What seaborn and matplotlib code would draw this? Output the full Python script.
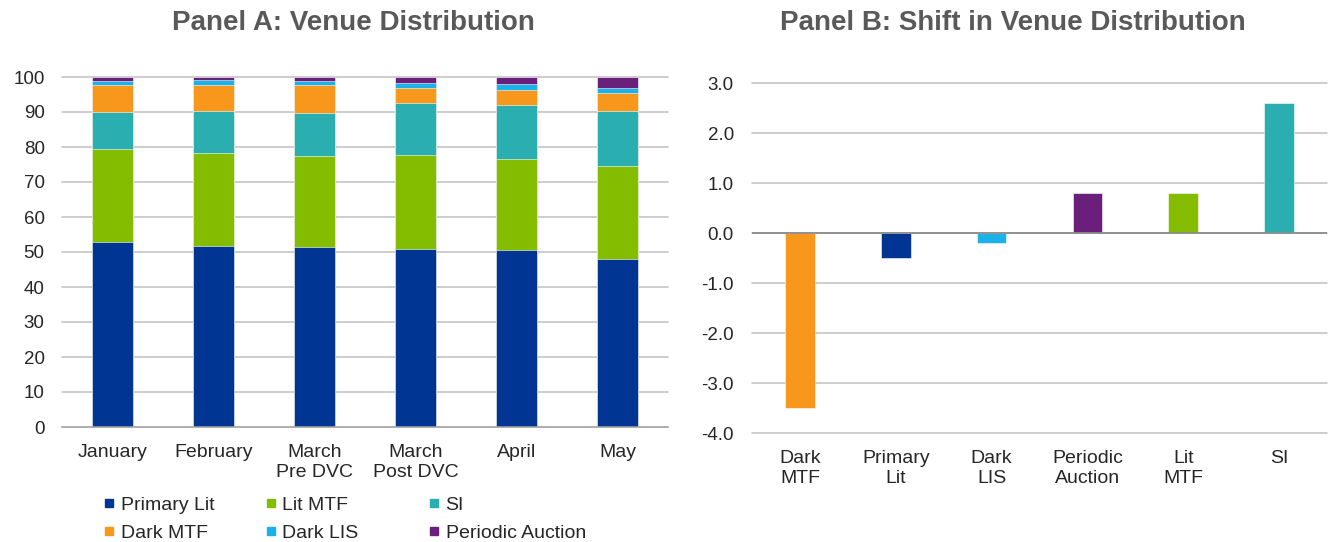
import numpy as np
import pandas as pd
import matplotlib
matplotlib.use("Agg")
import matplotlib.pyplot as plt
import seaborn as sns
from matplotlib.lines import Line2D

# ---------------- data ----------------
months = ["January", "February", "March\nPre DVC", "March\nPost DVC", "April", "May"]
venues = ["Primary Lit", "Lit MTF", "SI", "Dark MTF", "Dark LIS", "Periodic Auction"]
primary_lit = [53.0, 51.7, 51.4, 50.9, 50.6, 48.0]
lit_mtf = [26.3, 26.5, 26.1, 26.8, 26.0, 26.7]
si = [10.7, 12.0, 12.1, 14.8, 15.3, 15.5]
dark_mtf = [7.6, 7.4, 8.0, 4.4, 4.5, 5.2]
dark_lis = [1.4, 1.4, 1.4, 1.4, 1.6, 1.6]
periodic_auction = [1.0, 1.0, 1.0, 1.7, 2.0, 3.0]

shift_labels = ["Dark\nMTF", "Primary\nLit", "Dark\nLIS", "Periodic\nAuction", "Lit\nMTF", "SI"]
shift_venues = ["Dark MTF", "Primary Lit", "Dark LIS", "Periodic Auction", "Lit MTF", "SI"]
shift_values = [-3.5, -0.5, -0.2, 0.8, 0.8, 2.6]

colors = {
    "Primary Lit": "#003594",
    "Lit MTF": "#84bd00",
    "SI": "#2aaeb0",
    "Dark MTF": "#f7981d",
    "Dark LIS": "#1ab2e8",
    "Periodic Auction": "#6a1f7a",
}

# ---------------- style ----------------
sns.set_theme(style="white")
plt.rcParams['font.family'] = ['Liberation Sans', 'DejaVu Sans']
plt.rcParams['axes.unicode_minus'] = False

W, H = 1328, 542
fig = plt.figure(figsize=(W / 100, H / 100), dpi=100)
axA = fig.add_axes([62 / W, 1 - 427 / H, 606 / W, 350 / H])
axB = fig.add_axes([752 / W, 1 - 433 / H, 575 / W, 350 / H])

grid_color = "#c0c0c0"
tick_color = "#262626"
title_color = "#595959"
FS = 14

# ---------------- Panel A (stacked) ----------------
series = [primary_lit, lit_mtf, si, dark_mtf, dark_lis, periodic_auction]
cum = np.zeros(len(months))
layers = []
for v, vals in zip(venues, series):
    cum = cum + np.array(vals)
    layers.append((v, cum.copy()))
for v, tops in reversed(layers):
    df = pd.DataFrame({"month": months, "top": tops})
    sns.barplot(data=df, x="month", y="top", order=months, color=colors[v],
                saturation=1, width=0.405, ax=axA, edgecolor="white", linewidth=0.4)

axA.set_ylim(0, 100)
axA.set_xlim(-0.5, 5.5)
axA.set_yticks(np.arange(0, 101, 10))
axA.set_xlabel("")
axA.set_ylabel("")
axA.yaxis.grid(True, color=grid_color, lw=1.1)
axA.set_axisbelow(True)
for l in axA.get_ygridlines():
    l.set_clip_on(False)
for s in ["top", "right", "left"]:
    axA.spines[s].set_visible(False)
axA.spines["bottom"].set_color("#a6a6a6")
axA.spines["bottom"].set_linewidth(1.1)
axA.tick_params(axis="y", length=0, pad=12.5, labelsize=FS - 0.5, labelcolor=tick_color)
axA.tick_params(axis="x", length=0, pad=12, labelsize=FS, labelcolor=tick_color)
for t in axA.get_xticklabels():
    t.set_linespacing(1.23)

# ---------------- Panel B ----------------
dfB = pd.DataFrame({"venue": shift_labels, "shift": shift_values})
sns.barplot(data=dfB, x="venue", y="shift", hue="venue", order=shift_labels,
            palette=[colors[v] for v in shift_venues], saturation=1, width=0.31,
            legend=False, ax=axB, edgecolor="white", linewidth=0.4)
axB.set_ylim(-4, 3)
axB.set_xlim(-0.5, 5.5)
axB.set_yticks(np.arange(-4, 3.01, 1))
axB.set_yticklabels([f"{v:.1f}" for v in np.arange(-4, 3.01, 1)])
axB.set_xlabel("")
axB.set_ylabel("")
axB.yaxis.grid(True, color=grid_color, lw=1.1)
axB.set_axisbelow(True)
for l in axB.get_ygridlines():
    l.set_clip_on(False)
axB.axhline(0, color="#8c8c8c", lw=1.3, zorder=1.5)
for s in ["top", "right", "left", "bottom"]:
    axB.spines[s].set_visible(False)
axB.tick_params(axis="y", length=0, pad=13, labelsize=FS - 0.5, labelcolor=tick_color)
axB.tick_params(axis="x", length=0, pad=12.5, labelsize=FS, labelcolor=tick_color)
for t in axB.get_xticklabels():
    t.set_linespacing(1.23)

# ---------------- titles ----------------
fig.text(353 / W, 1 - 23 / H, "Panel A: Venue Distribution", ha="center", va="center",
         fontsize=20, fontweight="bold", color=title_color)
fig.text(1013 / W, 1 - 23 / H, "Panel B: Shift in Venue Distribution", ha="center", va="center",
         fontsize=20, fontweight="bold", color=title_color)

# ---------------- legend (3 columns below panel A) ----------------
col_groups = [["Primary Lit", "Dark MTF"], ["Lit MTF", "Dark LIS"], ["SI", "Periodic Auction"]]
col_x = [103, 265, 428]
for names, x in zip(col_groups, col_x):
    handles = [Line2D([0], [0], marker="s", ls="", markersize=6, markerfacecolor=colors[n],
                      markeredgecolor=colors[n]) for n in names]
    fig.legend(handles, names, loc="center left", bbox_to_anchor=(x / W, 1 - 519 / H),
               frameon=False, fontsize=FS, handlelength=0.6, handletextpad=0.3,
               labelspacing=0.52, borderpad=0, borderaxespad=0, labelcolor=tick_color)

fig.savefig("out.png", dpi=100)
